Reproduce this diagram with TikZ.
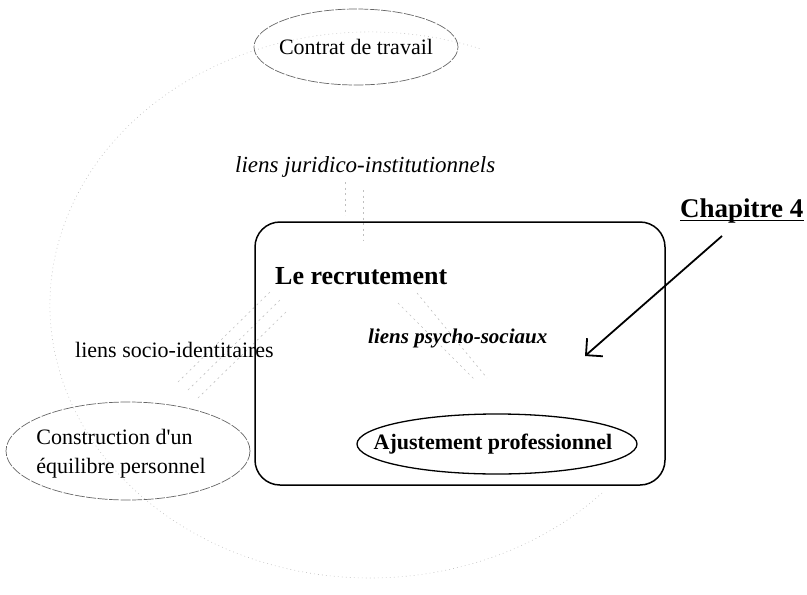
\documentclass[tikz,border=0pt]{standalone}
\usepackage{fontspec}
\setmainfont{Liberation Serif}[Ligatures=TeXOff]
\usetikzlibrary{arrows.meta,shapes.geometric}
\begin{document}
\begin{tikzpicture}[x=1pt,y=-1pt,
  txt/.style={inner sep=0pt, font=\fontsize{22}{29}\selectfont},
  bigtxt/.style={inner sep=0pt, font=\fontsize{26}{30}\selectfont\bfseries},
  thinoval/.style={ellipse, draw=black!60, line width=0.7pt, dash pattern=on 10pt off 1.5pt, inner sep=0pt},
  faint/.style={draw=black!25, line width=0.6pt, dash pattern=on 0.8pt off 3.2pt},
  hatch/.style={draw=black!25, line width=0.6pt, dash pattern=on 2pt off 3.5pt},
]
\useasboundingbox (0,0) rectangle (807,595);

% large faint circle linking the three poles
\draw[faint] (370,305) ++(-70:320 and 273)
  arc[start angle=-70, end angle=-317, x radius=320, y radius=273];

% faint link marks
\draw[hatch] (345,182) -- (345,215);
\draw[hatch] (363,190) -- (363,240);
\draw[hatch] (178,382) -- (272,290);
\draw[hatch] (188,390) -- (282,298);
\draw[hatch] (198,398) -- (288,310);
\draw[hatch] (398,303) -- (475,380);
\draw[hatch] (417,293) -- (487,378);

% poles
\node[thinoval, minimum width=204pt, minimum height=76pt] (contrat) at (356,47) {};
\node[txt] (contrattxt) at (contrat.center) {Contrat de travail};
\node[thinoval, minimum width=244pt, minimum height=98pt] (equilibre) at (128,451) {};
\node[txt, align=left] (equilibretxt) at (121,454) {Construction d'un\\équilibre personnel};

% central frame
\node[draw, rounded corners=25pt, line width=1.5pt, minimum width=410pt, minimum height=263pt, inner sep=0pt] (frame) at (460,353.5) {};
\node[bigtxt, anchor=base west] (recrutement) at (275,284) {Le recrutement};
\node[txt, font=\fontsize{21}{26}\selectfont\bfseries\itshape, anchor=base west] (psycho) at (368,343) {liens psycho-sociaux};
\node[ellipse, draw, line width=1.3pt, inner sep=0pt, minimum width=280pt, minimum height=60pt] (ajustement) at (497,444) {};
\node[txt, font=\fontsize{22}{26}\selectfont\bfseries] (ajustementtxt) at (493,444) {Ajustement professionnel};

% link labels
\node[txt, font=\fontsize{23}{26}\selectfont\itshape, anchor=base west] (juridico) at (235,172) {liens juridico-institutionnels};
\node[txt, anchor=base west] (socio) at (75,357) {liens socio-identitaires};

% chapter pointer
\node[bigtxt, font=\fontsize{27}{30}\selectfont\bfseries, anchor=base west] (chapitre) at (680,217) {Chapitre 4};
\draw[line width=1.6pt] ([yshift=-3.5pt]chapitre.base west) -- ([yshift=-3.5pt]chapitre.base east);
\coordinate (pstart) at (722,236);
\coordinate (pend) at (585,356);
\draw[line width=1.8pt, -{Straight Barb[length=12pt,width=24pt]}] (pstart) -- (pend);
\end{tikzpicture}
\end{document}
